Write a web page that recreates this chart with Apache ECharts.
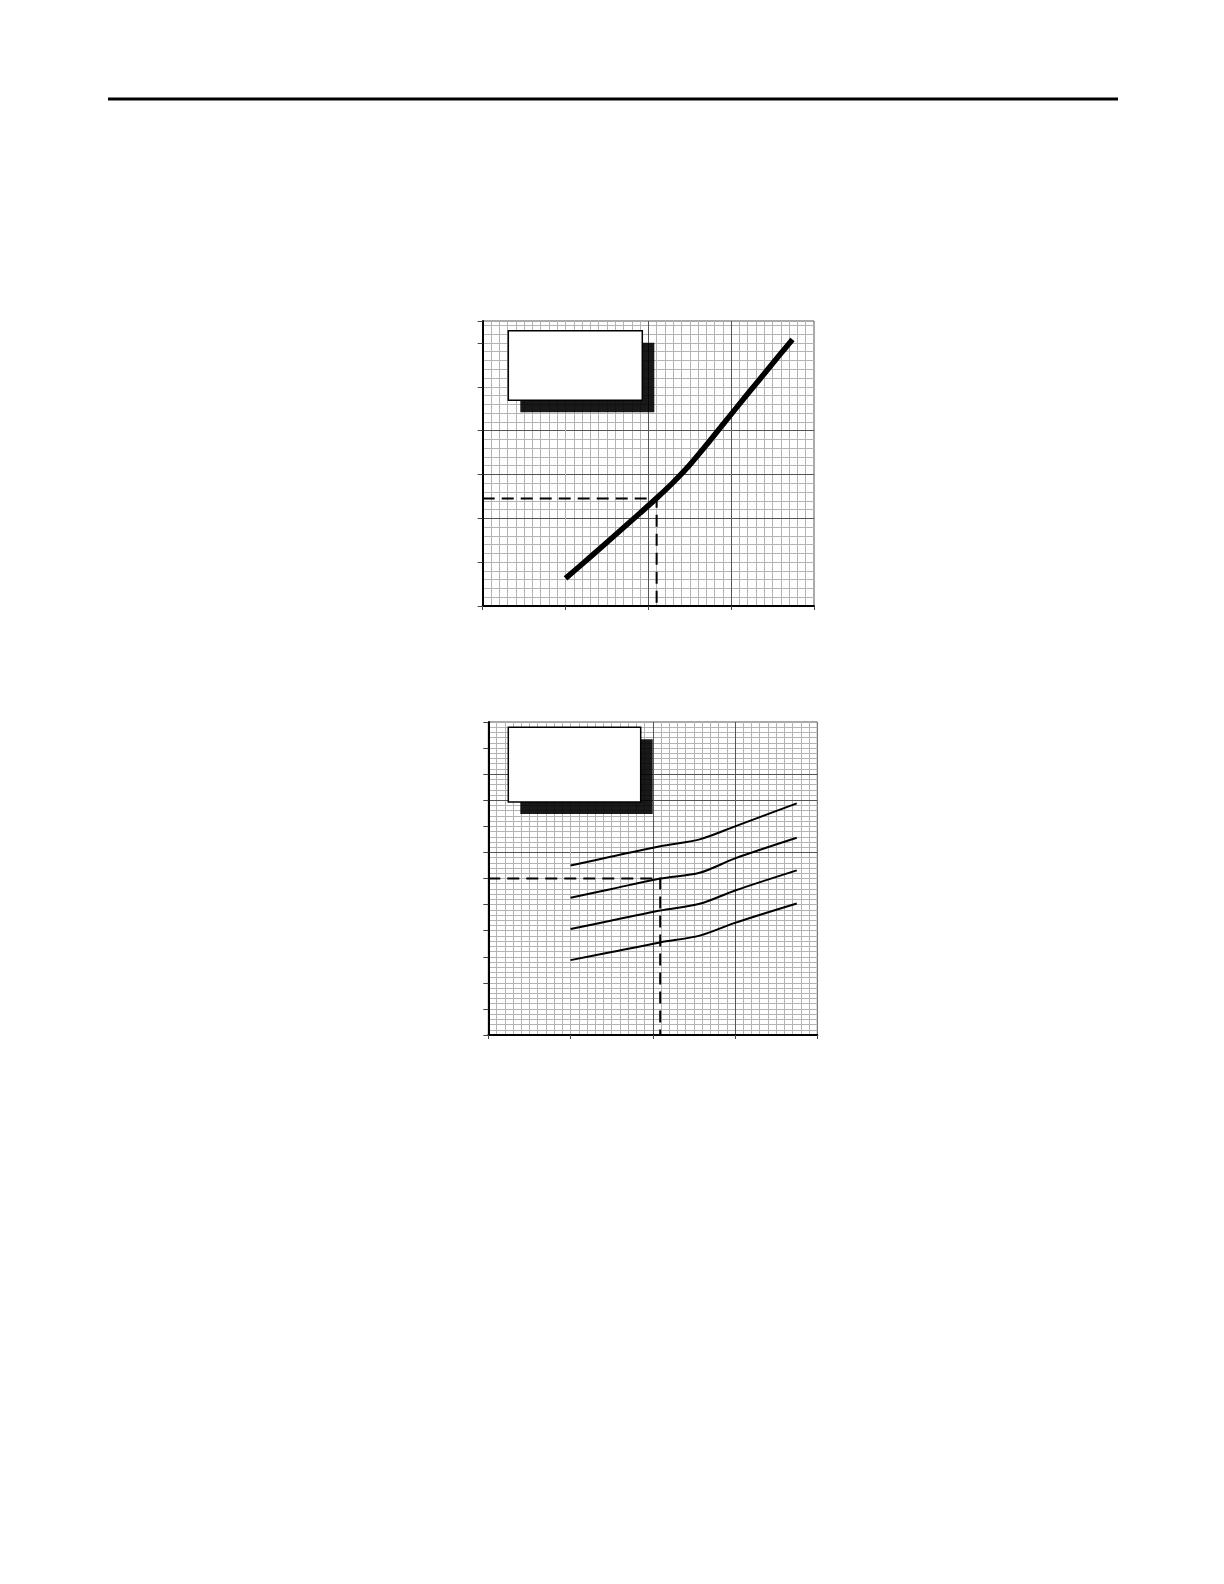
<!DOCTYPE html>
<html><head><meta charset="utf-8">
<script src="https://cdn.jsdelivr.net/npm/echarts@6/dist/echarts.min.js"></script>
<style>html,body{margin:0;padding:0;background:#fff}#c{width:1224px;height:1584px}</style>
</head><body><div id="c"></div>
<script>
// ---- Chart 1 (upper) data ----
const chart1XRange = [0, 40];
const chart1YRange = [0, 65];
const chart1CurveX = [10, 13, 16, 19, 21, 23, 25, 27, 29, 32, 35, 37.4];
const chart1CurveY = [6.3, 11.2, 16.2, 21.2, 24.6, 28.2, 32.2, 36.7, 41.4, 48.4, 55.3, 60.8];
const chart1Guide = [21.0, 24.5];

// ---- Chart 2 (lower) data ----
const chart2XRange = [0, 40];
const chart2YRange = [0, 12];
const chart2CurveX = [10, 15, 20.9, 25.7, 30, 37.5];
const chart2CurveA = [6.5, 6.84, 7.24, 7.5, 8.0, 8.88];
const chart2CurveB = [5.26, 5.60, 6.0, 6.22, 6.77, 7.56];
const chart2CurveC = [4.06, 4.39, 4.77, 5.03, 5.54, 6.31];
const chart2CurveD = [2.87, 3.18, 3.55, 3.81, 4.3, 5.04];
const chart2Guide = [20.9, 6.0];

const MINOR = '#b4b4b4', DARK = '#555';
const G1 = {left: 482.7, top: 321, width: 331.3, height: 285};
const G2 = {left: 488.3, top: 722, width: 329, height: 313};

function zip(xs, ys) { return xs.map((x, i) => [x, ys[i]]); }

function majorAxis(dim, gridIndex, range, interval, colors, tickLen) {
  return {
    type: 'value', gridIndex, min: range[0], max: range[1], interval, z: 4,
    position: dim === 'x' ? 'bottom' : 'left',
    axisLine: {show: true, onZero: false, lineStyle: {color: '#000', width: 2}},
    axisTick: {show: true, inside: false, length: tickLen, lineStyle: {color: '#444', width: 1}},
    axisLabel: {show: false},
    splitLine: {show: true, showMinLine: false, showMaxLine: false, lineStyle: {color: colors, width: 1}}
  };
}
function minorAxis(dim, gridIndex, range, interval) {
  return {
    type: 'value', gridIndex, min: range[0], max: range[1], interval, z: 2,
    position: dim === 'x' ? 'top' : 'right',
    axisLine: {show: false}, axisTick: {show: false}, axisLabel: {show: false},
    splitLine: {show: true, showMinLine: false, showMaxLine: false, lineStyle: {color: MINOR, width: 1}}
  };
}

const c1XColors = [MINOR, DARK, DARK, DARK, MINOR];
const c1YColors = [MINOR, DARK, DARK, DARK, MINOR, MINOR, MINOR, MINOR];
const c2XColors = [MINOR, DARK, DARK, DARK, MINOR];
const c2YColors = [MINOR, MINOR, MINOR, MINOR, MINOR, MINOR, DARK, MINOR, DARK, DARK, MINOR, MINOR, MINOR];

function line(data, xi, yi, width, dashed) {
  return {
    type: 'line', xAxisIndex: xi, yAxisIndex: yi, data, z: 6,
    showSymbol: false, symbol: 'none', silent: true, animation: false,
    smooth: dashed ? false : 0.3,
    lineStyle: {color: '#000', width, type: dashed ? [12, 7] : 'solid', cap: 'butt'}
  };
}

function boxes(wx, wy, ww, wh) {
  return [
    {type: 'rect', z: 5, shape: {x: wx + 12, y: wy + 12, width: ww, height: wh}, style: {fill: '#000', opacity: 0.9}},
    {type: 'rect', z: 20, shape: {x: wx, y: wy, width: ww, height: wh}, style: {fill: '#fff', stroke: '#000', lineWidth: 1.5}}
  ];
}

const option = {
  animation: false,
  backgroundColor: '#fff',
  grid: [
    Object.assign({show: true, borderColor: '#555', borderWidth: 1, z: 0}, G1),
    Object.assign({show: true, borderColor: '#555', borderWidth: 1, z: 0}, G2)
  ],
  xAxis: [
    majorAxis('x', 0, chart1XRange, 10, c1XColors, 4),
    minorAxis('x', 0, chart1XRange, 1),
    majorAxis('x', 1, chart2XRange, 10, c2XColors, 4),
    minorAxis('x', 1, chart2XRange, 1)
  ],
  yAxis: [
    majorAxis('y', 0, chart1YRange, 10, c1YColors, 5),
    minorAxis('y', 0, chart1YRange, 2),
    majorAxis('y', 1, chart2YRange, 1, c2YColors, 5),
    minorAxis('y', 1, chart2YRange, 0.2)
  ],
  graphic: [
    {type: 'rect', z: 30, shape: {x: 108, y: 97.5, width: 1010, height: 3}, style: {fill: '#000'}}
  ].concat(boxes(508.3, 330.7, 134, 69.6), boxes(508.3, 727.3, 132.4, 74.7)),
  series: [
    line(zip(chart1CurveX, chart1CurveY), 0, 0, 5.5, false),
    line([[chart1XRange[0], chart1Guide[1]], chart1Guide, [chart1Guide[0], chart1YRange[0]]], 0, 0, 2, true),
    line(zip(chart2CurveX, chart2CurveA), 2, 2, 2, false),
    line(zip(chart2CurveX, chart2CurveB), 2, 2, 2, false),
    line(zip(chart2CurveX, chart2CurveC), 2, 2, 2, false),
    line(zip(chart2CurveX, chart2CurveD), 2, 2, 2, false),
    line([[chart2XRange[0], chart2Guide[1]], chart2Guide, [chart2Guide[0], chart2YRange[0]]], 2, 2, 2, true)
  ]
};
const chart = echarts.init(document.getElementById('c'));
chart.setOption(option);
</script>
</body></html>
